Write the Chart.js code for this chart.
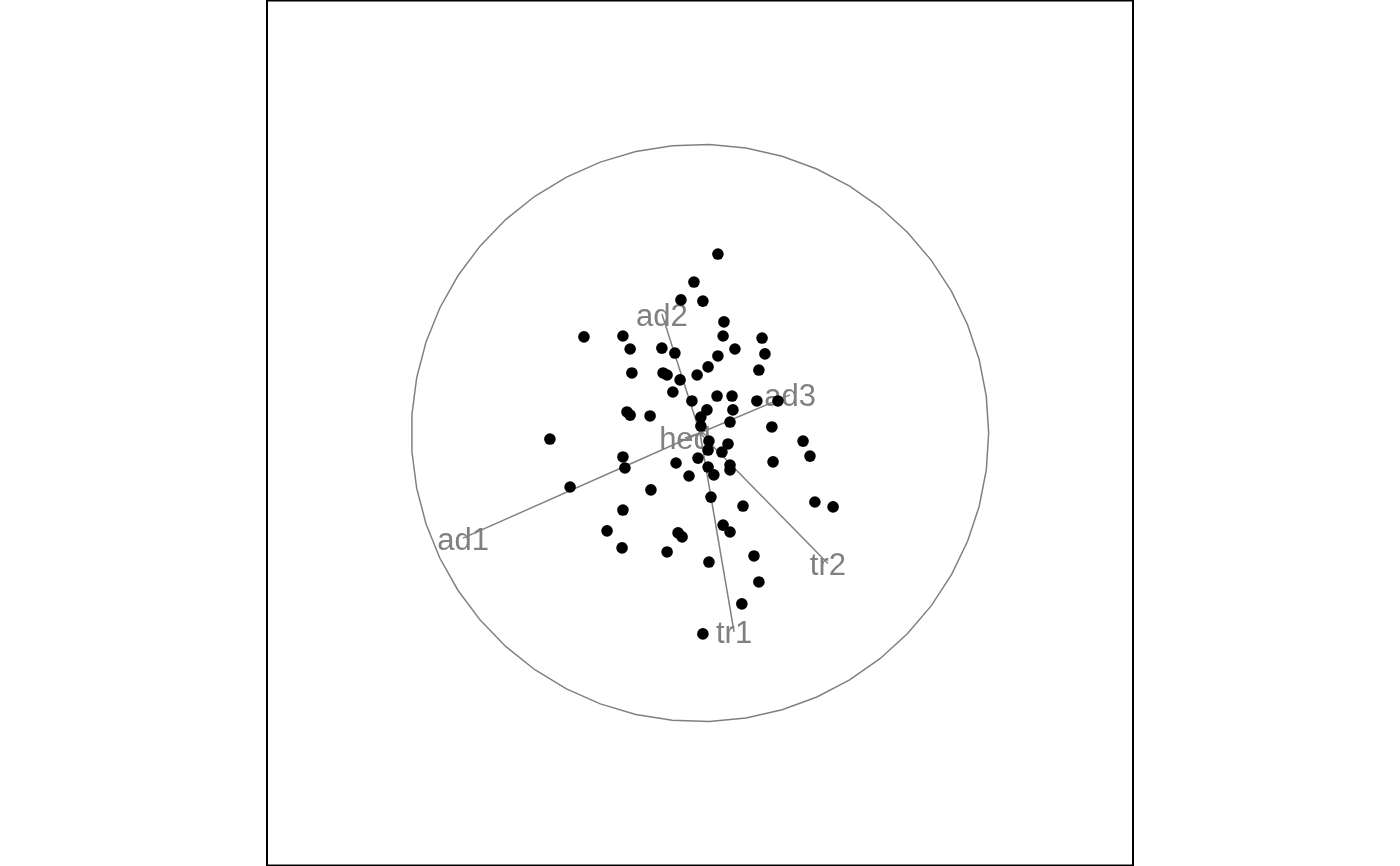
<!DOCTYPE html>
<html>
<head>
<meta charset="utf-8">
<script src="https://cdn.jsdelivr.net/npm/chart.js@4"></script>
<style>
  html, body { margin: 0; padding: 0; background: #fff; }
  #wrap { width: 1400px; height: 866px; }
</style>
</head>
<body>
<div id="wrap"><canvas id="myChart" width="1400" height="866"></canvas></div>
<script>
// projected points (x, y)
let px = [0.062, -0.021, -0.066, 0.010, -0.402, -0.267, 0.083, 0.080, 0.215, -0.242,
  -0.132, -0.087, 0.121, 0.225, 0.062, 0.028, 0.204, -0.236, -0.128, -0.114,
  -0.069, -0.010, -0.094, -0.028, 0.059, 0.111, 0.197, 0.270, -0.253, -0.242,
  -0.173, 0.024, 0.114, 0.003, 0.104, 0.003, 0.249, -0.520, 0.031, 0.357,
  0.097, 0.028, 0.076, 0.381, -0.007, -0.267, -0.083, 0.253, 0.028, 0.104,
  0.104, -0.260, 0.048, -0.038, -0.450, -0.170, 0.038, 0.149, 0.398, 0.461,
  -0.267, -0.322, -0.270, -0.076, -0.062, -0.114, 0.080, 0.104, 0.031, 0.187,
  0.204, 0.145, 0.010];
let py = [0.620, 0.523, 0.461, 0.457, 0.333, 0.336, 0.385, 0.336, 0.329, 0.291,
  0.294, 0.277, 0.291, 0.274, 0.267, 0.229, 0.218, 0.208, 0.208, 0.201,
  0.184, 0.201, 0.142, 0.111, 0.128, 0.128, 0.111, 0.111, 0.073, 0.062,
  0.059, 0.080, 0.080, 0.055, 0.038, 0.024, 0.021, -0.021, -0.028, -0.028,
  -0.038, -0.059, -0.066, -0.080, -0.087, -0.083, -0.104, -0.100, -0.118, -0.111,
  -0.128, -0.121, -0.145, -0.149, -0.187, -0.197, -0.222, -0.253, -0.239, -0.256,
  -0.267, -0.339, -0.398, -0.346, -0.360, -0.412, -0.319, -0.343, -0.447, -0.426,
  -0.516, -0.592, -0.696];

// projection axes
let axisLabels = ['ad1', 'ad2', 'ad3', 'tr1', 'tr2', 'hed'];
let axisX = [-0.821, -0.132, 0.312, 0.118, 0.443, -0.052];
let axisY = [-0.364, 0.412, 0.132, -0.689, -0.452, -0.017];

let grey = '#808080';

let points = px.map((x, i) => ({ x: x, y: py[i] }));

let axisSets = axisLabels.map((lab, i) => ({
  label: lab,
  type: 'line',
  data: [{ x: 0, y: 0 }, { x: axisX[i], y: axisY[i] }],
  borderColor: grey,
  borderWidth: 1.5,
  pointRadius: 0,
  fill: false,
  order: 2
}));

let tourPlugin = {
  id: 'tour',
  beforeDatasetsDraw(chart) {
    let c = chart.ctx;
    let xs = chart.scales.x, ys = chart.scales.y;
    let cx = xs.getPixelForValue(0), cy = ys.getPixelForValue(0);
    let r = xs.getPixelForValue(1) - cx;
    // guide circle, 50 vertices like the original
    c.save();
    c.strokeStyle = grey;
    c.lineWidth = 1.5;
    c.beginPath();
    for (let k = 0; k < 50; k++) {
      let t = 2 * Math.PI * k / 49;
      let x = cx + r * Math.cos(t), y = cy - r * Math.sin(t);
      if (k === 0) c.moveTo(x, y); else c.lineTo(x, y);
    }
    c.stroke();
    c.restore();
  },
  afterDatasetDraw(chart, args) {
    if (args.index !== axisSets.length - 1) return;
    let c = chart.ctx;
    let xs = chart.scales.x, ys = chart.scales.y;
    c.save();
    c.fillStyle = grey;
    c.font = '31px "Liberation Sans", Arial, sans-serif';
    c.textAlign = 'center';
    c.textBaseline = 'middle';
    axisLabels.forEach((lab, i) => {
      c.fillText(lab, xs.getPixelForValue(axisX[i]), ys.getPixelForValue(axisY[i]) + 3);
    });
    c.restore();
  },
  afterDraw(chart) {
    let a = chart.chartArea, c = chart.ctx;
    c.save();
    c.strokeStyle = '#000';
    c.lineWidth = 2;
    c.strokeRect(a.left, a.top + 0.5, a.right - a.left, a.bottom - a.top - 1);
    c.restore();
  }
};

let ctx = document.getElementById('myChart').getContext('2d');
let myChart = new Chart(ctx, {
  type: 'scatter',
  data: {
    datasets: [{
      label: 'points',
      data: points,
      backgroundColor: '#000',
      borderWidth: 0,
      pointRadius: 5.8,
      order: 1
    }].concat(axisSets)
  },
  options: {
    responsive: false,
    animation: false,
    layout: { autoPadding: false, padding: { left: 267, right: 267, top: 0, bottom: 0 } },
    plugins: {
      legend: { display: false },
      tooltip: { enabled: false }
    },
    scales: {
      x: { type: 'linear', min: -1.5, max: 1.5, display: false },
      y: { type: 'linear', min: -1.5, max: 1.5, display: false }
    }
  },
  plugins: [tourPlugin]
});
</script>
</body>
</html>
